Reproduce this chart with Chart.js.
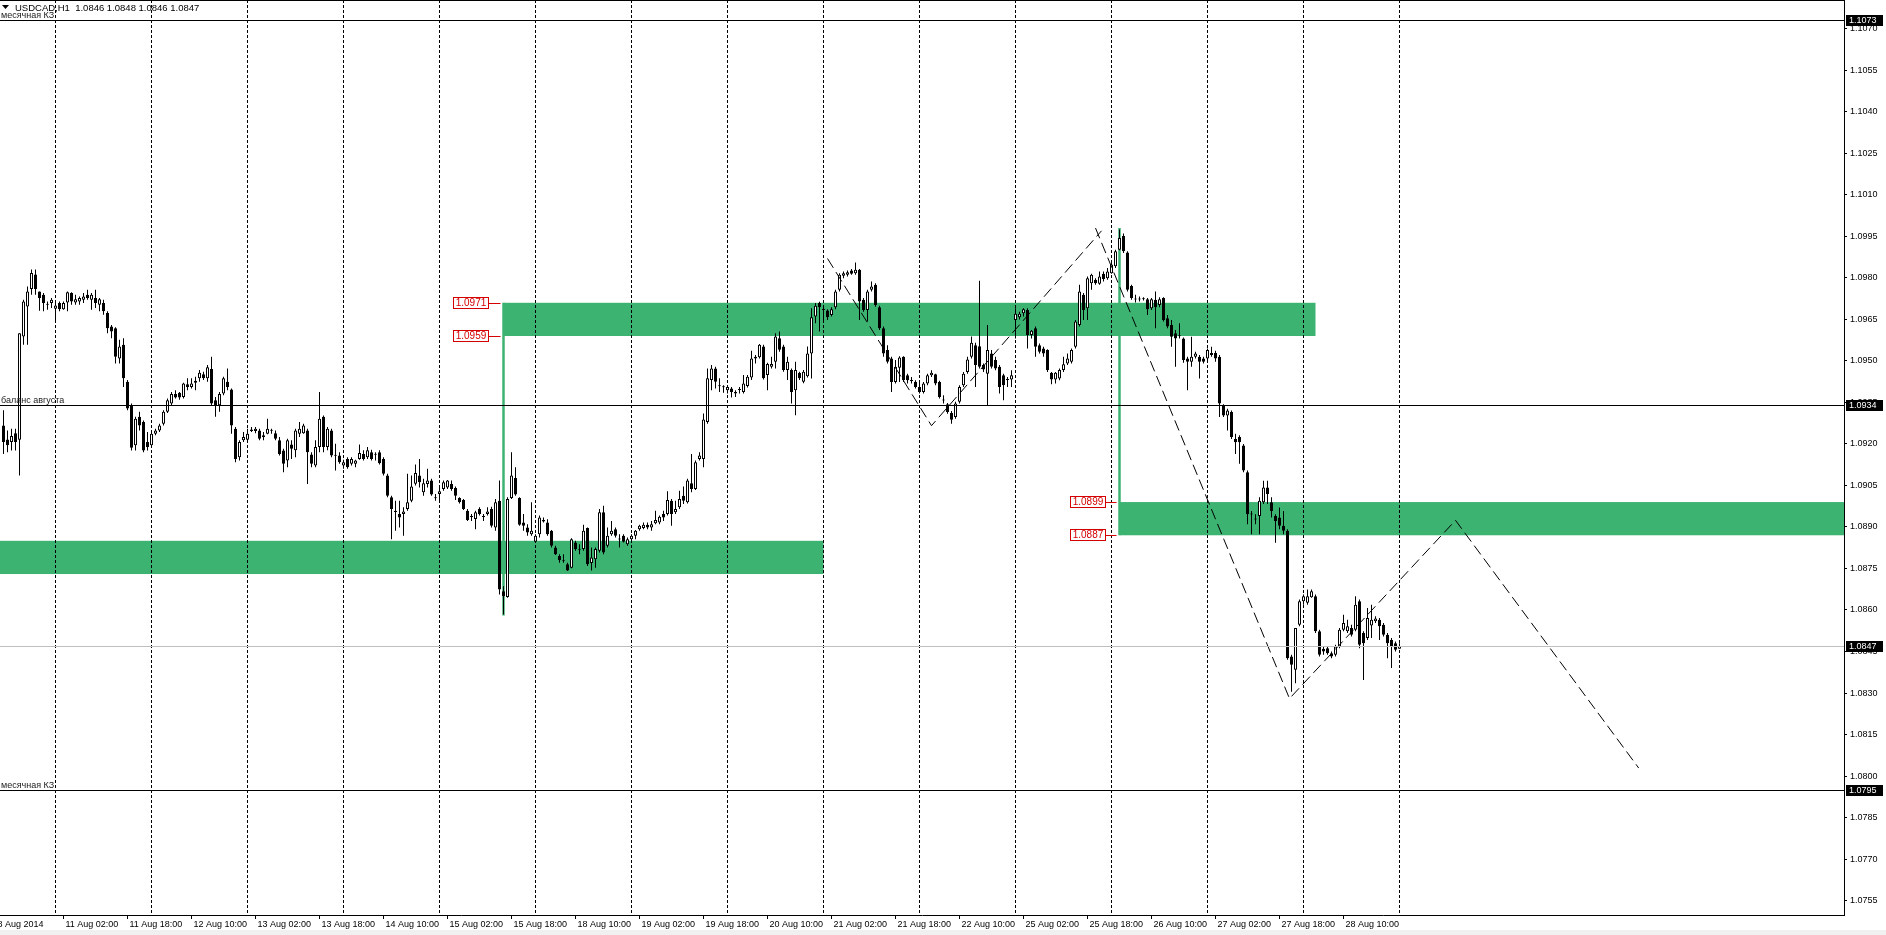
<!DOCTYPE html>
<html>
<head>
<meta charset="utf-8">
<title>USDCAD,H1</title>
<script src="https://cdn.jsdelivr.net/npm/chart.js@4.4.1/dist/chart.umd.min.js"></script>
<style>
  html, body { margin: 0; padding: 0; background: #fff; overflow: hidden; }
  #wrap { position: relative; width: 1886px; height: 935px; }
</style>
</head>
<body>
<div id="wrap"><canvas id="chart"></canvas></div>
<script>
'use strict';

(function () {

   //hourly candles, 8 Aug 2014 11:00 .. 29 Aug 2014 00:00 (bar 0 .. 349)
   var opens = [
      1.09267,1.09216,1.09207,1.09239,1.09215,1.09588,1.09697,1.09760,1.09812,1.09751,
      1.09739,1.09705,1.09709,1.09688,1.09709,1.09687,1.09711,1.09745,1.09711,1.09715,
      1.09721,1.09739,1.09721,1.09727,1.09703,1.09709,1.09673,1.09624,1.09618,1.09509,
      1.09558,1.09425,1.09340,1.09195,1.09298,1.09279,1.09207,1.09195,1.09237,1.09249,
      1.09273,1.09316,1.09346,1.09380,1.09385,1.09370,1.09416,1.09406,1.09421,1.09437,
      1.09452,1.09437,1.09471,1.09358,1.09340,1.09382,1.09425,1.09397,1.09255,1.09152,
      1.09213,1.09215,1.09247,1.09247,1.09249,1.09231,1.09237,1.09249,1.09239,1.09213,
      1.09176,1.09140,1.09198,1.09177,1.09237,1.09239,1.09249,1.09162,1.09122,1.09189,
      1.09298,1.09189,1.09249,1.09161,1.09158,1.09122,1.09146,1.09128,1.09128,1.09146,
      1.09164,1.09152,1.09170,1.09163,1.09170,1.09146,1.09086,1.09007,1.08959,1.08947,
      1.08947,1.08965,1.08995,1.09056,1.09086,1.09025,1.09055,1.09068,1.09007,1.09019,
      1.09037,1.09043,1.09055,1.09041,1.09005,1.08997,1.08959,1.08938,1.08929,1.08965,
      1.08938,1.08947,1.08965,1.08898,1.08995,1.08668,1.08647,1.09005,1.09077,1.09005,
      1.08916,1.08898,1.08874,1.08847,1.08874,1.08925,1.08916,1.08886,1.08826,1.08795,
      1.08778,1.08765,1.08753,1.08844,1.08821,1.08820,1.08896,1.08770,1.08783,1.08814,
      1.08953,1.08832,1.08874,1.08892,1.08857,1.08868,1.08838,1.08856,1.08868,1.08892,
      1.08896,1.08908,1.08898,1.08913,1.08916,1.08947,1.08947,1.08995,1.08953,1.08971,
      1.09013,1.08989,1.09058,1.09037,1.09146,1.09146,1.09279,1.09431,1.09473,1.09410,
      1.09408,1.09394,1.09400,1.09382,1.09398,1.09388,1.09409,1.09440,1.09509,1.09513,
      1.09552,1.09449,1.09479,1.09497,1.09582,1.09552,1.09467,1.09467,1.09394,1.09457,
      1.09425,1.09445,1.09527,1.09660,1.09709,1.09688,1.09682,1.09666,1.09694,1.09757,
      1.09808,1.09811,1.09827,1.09817,1.09829,1.09721,1.09684,1.09757,1.09775,1.09694,
      1.09618,1.09539,1.09509,1.09424,1.09475,1.09515,1.09448,1.09429,1.09425,1.09406,
      1.09388,1.09418,1.09448,1.09452,1.09424,1.09359,1.09343,1.09312,1.09297,1.09352,
      1.09412,1.09460,1.09515,1.09557,1.09553,1.09485,1.09454,1.09527,1.09503,1.09479,
      1.09448,1.09434,1.09433,1.09648,1.09658,1.09672,1.09684,1.09594,1.09618,1.09557,
      1.09545,1.09539,1.09457,1.09433,1.09436,1.09467,1.09491,1.09497,1.09551,1.09630,
      1.09739,1.09690,1.09781,1.09793,1.09779,1.09815,1.09799,1.09817,1.09842,1.09902,
      1.09951,1.09892,1.09771,1.09724,1.09724,1.09723,1.09723,1.09690,1.09721,1.09702,
      1.09727,1.09654,1.09630,1.09600,1.09591,1.09581,1.09509,1.09497,1.09515,1.09515,
      1.09509,1.09509,1.09521,1.09529,1.09515,1.09339,1.09303,1.09315,1.09218,1.09225,
      1.09194,1.09098,1.08947,1.08929,1.08940,1.08989,1.09043,1.08989,1.08940,1.08934,
      1.08904,1.08886,1.08432,1.08384,1.08547,1.08632,1.08626,1.08646,1.08650,1.08523,
      1.08460,1.08462,1.08444,1.08438,1.08468,1.08529,1.08523,1.08535,1.08529,1.08632,
      1.08517,1.08499,1.08544,1.08559,1.08565,1.08547,1.08511,1.08492,1.08480,1.0846
   ];
   var highs = [
      1.09322,1.09249,1.09255,1.09255,1.09600,1.09721,1.09769,1.09830,1.09830,1.09751,
      1.09745,1.09715,1.09727,1.09709,1.09715,1.09715,1.09751,1.09748,1.09739,1.09733,
      1.09745,1.09757,1.09745,1.09757,1.09727,1.09721,1.09679,1.09630,1.09622,1.09576,
      1.09582,1.09431,1.09346,1.09298,1.09316,1.09285,1.09243,1.09249,1.09255,1.09273,
      1.09322,1.09364,1.09388,1.09394,1.09388,1.09421,1.09437,1.09437,1.09443,1.09467,
      1.09461,1.09485,1.09515,1.09370,1.09388,1.09443,1.09473,1.09400,1.09261,1.09213,
      1.09243,1.09255,1.09261,1.09261,1.09255,1.09243,1.09291,1.09255,1.09249,1.09225,
      1.09183,1.09219,1.09213,1.09255,1.09279,1.09273,1.09255,1.09170,1.09213,1.09388,
      1.09303,1.09261,1.09255,1.09201,1.09170,1.09143,1.09152,1.09152,1.09143,1.09198,
      1.09177,1.09189,1.09179,1.09170,1.09177,1.09152,1.09092,1.09013,1.08995,1.08995,
      1.08971,1.09092,1.09086,1.09126,1.09146,1.09074,1.09110,1.09074,1.09019,1.09043,
      1.09068,1.09070,1.09068,1.09046,1.09007,1.09001,1.08965,1.08947,1.08959,1.08971,
      1.08947,1.08971,1.08973,1.09001,1.09068,1.08686,1.09007,1.09170,1.09116,1.09007,
      1.08947,1.08910,1.08989,1.08874,1.08941,1.08934,1.08928,1.08889,1.08832,1.08801,
      1.08801,1.08771,1.08859,1.08850,1.08838,1.08908,1.08898,1.08826,1.08826,1.08965,
      1.08977,1.08898,1.08922,1.08898,1.08874,1.08874,1.08862,1.08874,1.08889,1.08908,
      1.08916,1.08916,1.08922,1.08959,1.08941,1.08959,1.09029,1.09001,1.08995,1.09031,
      1.09046,1.09074,1.09164,1.09140,1.09170,1.09310,1.09473,1.09485,1.09479,1.09437,
      1.09412,1.09412,1.09406,1.09394,1.09406,1.09449,1.09449,1.09537,1.09521,1.09561,
      1.09558,1.09493,1.09515,1.09600,1.09606,1.09558,1.09515,1.09473,1.09497,1.09461,
      1.09467,1.09552,1.09690,1.09709,1.09714,1.09702,1.09687,1.09694,1.09757,1.09817,
      1.09823,1.09827,1.09832,1.09856,1.09832,1.09727,1.09757,1.09787,1.09781,1.09699,
      1.09624,1.09557,1.09515,1.09503,1.09517,1.09517,1.09454,1.09442,1.09430,1.09424,
      1.09424,1.09454,1.09466,1.09454,1.09428,1.09376,1.09348,1.09319,1.09352,1.09412,
      1.09460,1.09515,1.09588,1.09566,1.09790,1.09491,1.09630,1.09539,1.09515,1.09485,
      1.09454,1.09442,1.09466,1.09690,1.09678,1.09690,1.09690,1.09612,1.09624,1.09563,
      1.09551,1.09542,1.09460,1.09460,1.09473,1.09515,1.09527,1.09545,1.09648,1.09775,
      1.09745,1.09805,1.09815,1.09799,1.09823,1.09823,1.09836,1.09854,1.09902,1.09975,
      1.09960,1.09896,1.09775,1.09739,1.09733,1.09730,1.09727,1.09727,1.09751,1.09730,
      1.09730,1.09666,1.09648,1.09612,1.09636,1.09585,1.09515,1.09587,1.09533,1.09521,
      1.09515,1.09545,1.09551,1.09537,1.09521,1.09343,1.09327,1.09321,1.09237,1.09231,
      1.09200,1.09104,1.08958,1.08946,1.09007,1.09067,1.09067,1.09007,1.08946,1.08970,
      1.08958,1.08892,1.08438,1.08535,1.08638,1.08656,1.08674,1.08674,1.08656,1.08529,
      1.08468,1.08468,1.08450,1.08474,1.08535,1.08583,1.08565,1.08547,1.08650,1.08638,
      1.08523,1.08607,1.08619,1.08577,1.08571,1.08553,1.08517,1.08499,1.08486,1.0848
   ];
   var lows = [
      1.09164,1.09170,1.09176,1.09176,1.09086,1.09558,1.09558,1.09739,1.09739,1.09681,
      1.09679,1.09685,1.09691,1.09648,1.09679,1.09685,1.09679,1.09703,1.09703,1.09703,
      1.09709,1.09721,1.09685,1.09691,1.09679,1.09667,1.09600,1.09582,1.09491,1.09491,
      1.09406,1.09322,1.09176,1.09176,1.09249,1.09170,1.09176,1.09189,1.09231,1.09243,
      1.09267,1.09312,1.09340,1.09364,1.09360,1.09364,1.09394,1.09400,1.09394,1.09425,
      1.09431,1.09425,1.09340,1.09298,1.09316,1.09376,1.09394,1.09237,1.09134,1.09140,
      1.09207,1.09207,1.09243,1.09239,1.09213,1.09213,1.09235,1.09237,1.09213,1.09158,
      1.09098,1.09116,1.09146,1.09152,1.09225,1.09237,1.09055,1.09116,1.09116,1.09170,
      1.09170,1.09177,1.09152,1.09104,1.09128,1.09110,1.09110,1.09122,1.09116,1.09143,
      1.09140,1.09146,1.09140,1.09140,1.09126,1.09086,1.09007,1.08856,1.08886,1.08898,
      1.08868,1.08959,1.08989,1.09050,1.09043,1.09013,1.09043,1.09013,1.08995,1.08995,
      1.09031,1.09037,1.09031,1.08997,1.08985,1.08961,1.08922,1.08922,1.08892,1.08941,
      1.08922,1.08941,1.08898,1.08886,1.08656,1.08584,1.08644,1.09001,1.09013,1.08904,
      1.08886,1.08868,1.08868,1.08844,1.08862,1.08916,1.08868,1.08826,1.08799,1.08771,
      1.08771,1.08741,1.08751,1.08814,1.08801,1.08814,1.08759,1.08743,1.08753,1.08808,
      1.08801,1.08826,1.08868,1.08862,1.08826,1.08844,1.08832,1.08850,1.08856,1.08886,
      1.08892,1.08892,1.08886,1.08910,1.08910,1.08922,1.08941,1.08904,1.08947,1.08965,
      1.08983,1.08985,1.09025,1.09034,1.09140,1.09116,1.09273,1.09394,1.09400,1.09388,
      1.09385,1.09382,1.09368,1.09370,1.09382,1.09382,1.09404,1.09431,1.09491,1.09509,
      1.09433,1.09394,1.09473,1.09473,1.09533,1.09461,1.09431,1.09346,1.09304,1.09431,
      1.09419,1.09440,1.09436,1.09636,1.09606,1.09648,1.09648,1.09660,1.09687,1.09751,
      1.09799,1.09805,1.09811,1.09811,1.09648,1.09678,1.09642,1.09751,1.09696,1.09612,
      1.09515,1.09491,1.09388,1.09418,1.09424,1.09424,1.09418,1.09418,1.09400,1.09382,
      1.09382,1.09412,1.09442,1.09412,1.09364,1.09346,1.09309,1.09273,1.09291,1.09346,
      1.09406,1.09454,1.09509,1.09406,1.09473,1.09460,1.09339,1.09473,1.09466,1.09382,
      1.09358,1.09406,1.09406,1.09581,1.09650,1.09660,1.09545,1.09581,1.09515,1.09527,
      1.09515,1.09460,1.09416,1.09418,1.09430,1.09460,1.09485,1.09491,1.09545,1.09624,
      1.09648,1.09648,1.09757,1.09775,1.09775,1.09787,1.09793,1.09815,1.09836,1.09900,
      1.09890,1.09751,1.09721,1.09711,1.09715,1.09718,1.09666,1.09684,1.09618,1.09694,
      1.09642,1.09618,1.09551,1.09479,1.09581,1.09493,1.09394,1.09479,1.09509,1.09436,
      1.09491,1.09503,1.09515,1.09497,1.09297,1.09297,1.09249,1.09218,1.09164,1.09128,
      1.09098,1.08910,1.08874,1.08910,1.08874,1.08983,1.08983,1.08934,1.08843,1.08892,
      1.08874,1.08420,1.08305,1.08335,1.08541,1.08619,1.08619,1.08644,1.08517,1.08432,
      1.08438,1.08438,1.08426,1.08432,1.08462,1.08523,1.08517,1.08504,1.08523,1.08462,
      1.08347,1.08492,1.08499,1.08553,1.08492,1.08504,1.08426,1.08390,1.08450,1.0846
   ];
   var closes = [
      1.09207,1.09195,1.09229,1.09207,1.09600,1.09715,1.09751,1.09818,1.09760,1.09727,
      1.09709,1.09703,1.09721,1.09700,1.09687,1.09709,1.09748,1.09715,1.09723,1.09727,
      1.09733,1.09727,1.09739,1.09709,1.09723,1.09679,1.09618,1.09606,1.09515,1.09552,
      1.09437,1.09328,1.09186,1.09291,1.09267,1.09176,1.09189,1.09237,1.09249,1.09267,
      1.09316,1.09358,1.09380,1.09368,1.09368,1.09418,1.09406,1.09418,1.09428,1.09457,
      1.09437,1.09477,1.09346,1.09340,1.09380,1.09437,1.09406,1.09267,1.09146,1.09207,
      1.09225,1.09237,1.09252,1.09255,1.09219,1.09225,1.09255,1.09248,1.09219,1.09164,
      1.09128,1.09213,1.09183,1.09249,1.09255,1.09267,1.09170,1.09128,1.09189,1.09291,
      1.09189,1.09255,1.09158,1.09157,1.09134,1.09134,1.09116,1.09146,1.09140,1.09167,
      1.09146,1.09177,1.09146,1.09161,1.09130,1.09092,1.09013,1.08965,1.08954,1.08934,
      1.08956,1.08989,1.09046,1.09095,1.09062,1.09058,1.09068,1.09017,1.09004,1.09029,
      1.09062,1.09068,1.09037,1.09013,1.08989,1.08965,1.08925,1.08936,1.08953,1.08947,
      1.08936,1.08956,1.08904,1.08989,1.08674,1.08650,1.09001,1.09086,1.09017,1.08908,
      1.08904,1.08880,1.08886,1.08868,1.08934,1.08920,1.08874,1.08832,1.08801,1.08780,
      1.08776,1.08743,1.08856,1.08820,1.08818,1.08886,1.08765,1.08790,1.08820,1.08953,
      1.08808,1.08868,1.08886,1.08868,1.08855,1.08847,1.08856,1.08868,1.08886,1.08904,
      1.08908,1.08898,1.08910,1.08925,1.08937,1.08934,1.08997,1.08947,1.08965,1.09001,
      1.08995,1.09068,1.09037,1.09134,1.09158,1.09288,1.09437,1.09473,1.09425,1.09408,
      1.09405,1.09406,1.09388,1.09388,1.09395,1.09418,1.09443,1.09509,1.09515,1.09558,
      1.09437,1.09489,1.09489,1.09588,1.09540,1.09467,1.09497,1.09388,1.09467,1.09437,
      1.09461,1.09527,1.09658,1.09699,1.09694,1.09684,1.09658,1.09687,1.09751,1.09811,
      1.09817,1.09820,1.09815,1.09829,1.09715,1.09684,1.09751,1.09769,1.09702,1.09618,
      1.09527,1.09497,1.09424,1.09479,1.09512,1.09430,1.09430,1.09427,1.09406,1.09388,
      1.09418,1.09448,1.09457,1.09418,1.09370,1.09357,1.09315,1.09287,1.09346,1.09406,
      1.09454,1.09505,1.09566,1.09485,1.09479,1.09469,1.09539,1.09479,1.09473,1.09406,
      1.09412,1.09431,1.09448,1.09670,1.09670,1.09687,1.09594,1.09609,1.09551,1.09533,
      1.09527,1.09467,1.09433,1.09457,1.09467,1.09488,1.09509,1.09539,1.09642,1.09751,
      1.09684,1.09799,1.09811,1.09781,1.09805,1.09796,1.09823,1.09848,1.09896,1.09944,
      1.09896,1.09757,1.09727,1.09722,1.09722,1.09725,1.09687,1.09723,1.09694,1.09723,
      1.09648,1.09624,1.09587,1.09581,1.09589,1.09503,1.09497,1.09515,1.09527,1.09497,
      1.09497,1.09539,1.09529,1.09509,1.09346,1.09303,1.09321,1.09225,1.09206,1.09206,
      1.09104,1.08946,1.08945,1.08927,1.08995,1.09043,1.09019,1.08958,1.08922,1.08904,
      1.08886,1.08426,1.08402,1.08535,1.08632,1.08650,1.08650,1.08668,1.08523,1.08438,
      1.08450,1.08444,1.08432,1.08468,1.08529,1.08553,1.08541,1.08511,1.08619,1.08474,
      1.08480,1.08571,1.08565,1.08569,1.08541,1.08511,1.08480,1.08468,1.08456,1.0847
   ];

   //time axis: labels every 16 bars, dashed grid at the first bar of each day
   var timeLabels = ['8 Aug 2014', '11 Aug 02:00', '11 Aug 18:00', '12 Aug 10:00', '13 Aug 02:00',
                     '13 Aug 18:00', '14 Aug 10:00', '15 Aug 02:00', '15 Aug 18:00', '18 Aug 10:00',
                     '19 Aug 02:00', '19 Aug 18:00', '20 Aug 10:00', '21 Aug 02:00', '21 Aug 18:00',
                     '22 Aug 10:00', '25 Aug 02:00', '25 Aug 18:00', '26 Aug 10:00', '27 Aug 02:00',
                     '27 Aug 18:00', '28 Aug 10:00'];
   var timeLabelBars = [-2, 15, 31, 47, 63, 79, 95, 111, 127, 143, 159, 175, 191, 207, 223,
                        239, 255, 271, 287, 303, 319, 335];
   var dayStartBars = [13, 37, 61, 85, 109, 133, 157, 181, 205, 229, 253, 277, 301, 325, 349];

   var priceTicks = [1.0755, 1.0770, 1.0785, 1.0800, 1.0815, 1.0830, 1.0845, 1.0860, 1.0875,
                     1.0890, 1.0905, 1.0920, 1.0935, 1.0950, 1.0965, 1.0980, 1.0995, 1.1010,
                     1.1025, 1.1040, 1.1055, 1.1070];

   //hand drawn levels
   var levelPrices = [1.1073, 1.0934, 1.0795];
   var levelNames = ['месячная КЗ', 'баланс августа', 'месячная КЗ'];
   var bidPrice = 1.0847;

   //green zones
   var zoneFrom = [-2, 125, 279];
   var zoneTo = [205, 328, 470];
   var zoneLow = [1.0873, 1.0959, 1.0887];
   var zoneHigh = [1.0885, 1.0971, 1.0899];

   //green stems and red price tags
   var stemBars = [125, 279];
   var stemTop = [1.0971, 1.0998];
   var stemBottom = [1.0858, 1.0887];
   var tagBars = [125, 125, 279, 279];
   var tagPrices = [1.0971, 1.0959, 1.0899, 1.0887];

   //dashed wave path
   var waveBarsA = [206, 232, 274.5];
   var wavePricesA = [1.0987, 1.09266, 1.0997];
   var waveBarsB = [273, 321.5, 363, 408.8];
   var wavePricesB = [1.0998, 1.0828, 1.08924, 1.08029];

   var xMin = -0.875, xMax = 460.125;
   var yMin = 1.07498, yMax = 1.10804;

   var GREEN = '#3cb371';
   var FONT = '"Liberation Sans", Arial, sans-serif';

   var bodies = [], wicks = [], bodyColors = [];
   for (var i = 0; i < closes.length; i++) {
      wicks.push({x: i, y: [lows[i], highs[i]]});
      bodies.push({x: i, y: [opens[i], closes[i]]});
      bodyColors.push(closes[i] >= opens[i] ? '#ffffff' : '#000000');
   }
   function path(xs, ys) {
      return xs.map(function (x, k) { return {x: x, y: ys[k]}; });
   }

   var drawExtras = {
      id: 'extras',
      beforeDraw: function (chart) {
         var ctx = chart.ctx, a = chart.chartArea;
         var x = chart.scales.x, y = chart.scales.y;
         ctx.save();
         ctx.fillStyle = '#ffffff';
         ctx.fillRect(0, 0, chart.width, chart.height);
         ctx.fillStyle = '#f0f0f0';
         ctx.fillRect(0, 930, chart.width, chart.height - 930);
         ctx.beginPath();
         ctx.rect(a.left, a.top, a.right - a.left, a.bottom - a.top);
         ctx.clip();
         ctx.fillStyle = GREEN;
         zoneFrom.forEach(function (f, k) {
            var x1 = x.getPixelForValue(f), x2 = x.getPixelForValue(zoneTo[k]);
            var y1 = y.getPixelForValue(zoneHigh[k]), y2 = y.getPixelForValue(zoneLow[k]);
            ctx.fillRect(x1, y1, x2 - x1, y2 - y1);
         });
         ctx.strokeStyle = GREEN;
         ctx.lineWidth = 2.5;
         stemBars.forEach(function (b, k) {
            var px = x.getPixelForValue(b);
            ctx.beginPath();
            ctx.moveTo(px, y.getPixelForValue(stemTop[k]));
            ctx.lineTo(px, y.getPixelForValue(stemBottom[k]));
            ctx.stroke();
         });
         ctx.restore();
      },
      afterDraw: function (chart) {
         var ctx = chart.ctx, a = chart.chartArea;
         var x = chart.scales.x, y = chart.scales.y;
         ctx.save();
         ctx.lineWidth = 1;
         //frame top
         ctx.strokeStyle = '#000';
         ctx.beginPath();
         ctx.moveTo(a.left, a.top + 0.5);
         ctx.lineTo(a.right, a.top + 0.5);
         ctx.stroke();
         //levels
         ctx.font = '9px ' + FONT;
         ctx.textBaseline = 'alphabetic';
         ctx.textAlign = 'left';
         levelPrices.forEach(function (p, k) {
            var py = Math.round(y.getPixelForValue(p)) + 0.5;
            ctx.strokeStyle = '#000';
            ctx.beginPath();
            ctx.moveTo(a.left, py);
            ctx.lineTo(a.right, py);
            ctx.stroke();
            ctx.fillStyle = '#222';
            ctx.fillText(levelNames[k], a.left + 1, py - 2.5);
         });
         var by = Math.round(y.getPixelForValue(bidPrice)) + 0.5;
         ctx.strokeStyle = '#c0c0c0';
         ctx.beginPath();
         ctx.moveTo(a.left, by);
         ctx.lineTo(a.right, by);
         ctx.stroke();
         //price boxes on the axis
         ctx.textBaseline = 'middle';
         levelPrices.concat([bidPrice]).forEach(function (p) {
            var py = Math.round(y.getPixelForValue(p));
            ctx.fillStyle = '#000';
            ctx.fillRect(a.right + 2, py - 5, 37, 11);
            ctx.fillStyle = '#fff';
            ctx.fillText(p.toFixed(4), a.right + 5, py + 0.5);
         });
         //red tags
         ctx.textAlign = 'center';
         ctx.font = '10px ' + FONT;
         tagBars.forEach(function (b, k) {
            var sx = x.getPixelForValue(b);
            var py = Math.round(y.getPixelForValue(tagPrices[k]));
            var right = Math.round(sx - 14);
            ctx.fillStyle = '#fff';
            ctx.fillRect(right - 36, py - 6, 36, 12);
            ctx.strokeStyle = '#d40000';
            ctx.strokeRect(right - 35.5, py - 5.5, 35, 11);
            ctx.beginPath();
            ctx.moveTo(right, py + 0.5);
            ctx.lineTo(sx - 3, py + 0.5);
            ctx.stroke();
            ctx.fillStyle = '#d40000';
            ctx.fillText(tagPrices[k].toFixed(4), right - 18, py + 0.5);
         });
         //header
         var last = closes.length - 1;
         ctx.fillStyle = '#000';
         ctx.beginPath();
         ctx.moveTo(2, 5);
         ctx.lineTo(9, 5);
         ctx.lineTo(5.5, 9);
         ctx.closePath();
         ctx.fill();
         ctx.font = '9.5px ' + FONT;
         ctx.textAlign = 'left';
         ctx.textBaseline = 'alphabetic';
         ctx.fillText('USDCAD,H1  ' + opens[last].toFixed(4) + ' ' + highs[last].toFixed(4) + ' ' +
                      lows[last].toFixed(4) + ' ' + closes[last].toFixed(4), 15, 11);
         ctx.restore();
      }
   };

   Chart.defaults.font.family = FONT;
   Chart.defaults.font.size = 9;
   Chart.defaults.color = '#000';

   var ctx = document.getElementById('chart').getContext('2d');
   var chart = new Chart(ctx, {
      type: 'bar',
      data: {
         datasets: [{
            type: 'line', data: path(waveBarsA, wavePricesA), xAxisID: 'x', yAxisID: 'y',
            borderColor: '#000', borderWidth: 1, borderDash: [11, 5], pointRadius: 0, fill: false, order: 0
         }, {
            type: 'line', data: path(waveBarsB, wavePricesB), xAxisID: 'x', yAxisID: 'y',
            borderColor: '#000', borderWidth: 1, borderDash: [11, 5], pointRadius: 0, fill: false, order: 0
         }, {
            type: 'bar', data: bodies, xAxisID: 'x', yAxisID: 'y',
            backgroundColor: bodyColors, borderColor: '#000', borderWidth: 1, borderSkipped: false,
            barThickness: 3, minBarLength: 1, inflateAmount: 0, grouped: false, order: 1
         }, {
            type: 'bar', data: wicks, xAxisID: 'x', yAxisID: 'y',
            backgroundColor: '#000', borderWidth: 0, barThickness: 1, inflateAmount: 0,
            grouped: false, order: 2
         }]
      },
      options: {
         responsive: true,
         maintainAspectRatio: false,
         devicePixelRatio: 1,
         animation: false,
         events: [],
         layout: { padding: 0 },
         plugins: { legend: { display: false }, tooltip: { enabled: false } },
         scales: {
            x: {
               type: 'linear', position: 'bottom', min: xMin, max: xMax, bounds: 'data', offset: false,
               afterBuildTicks: function (s) {
                  s.ticks = timeLabelBars.map(function (v) { return {value: v}; });
               },
               ticks: {
                  autoSkip: false, maxRotation: 0, minRotation: 0, align: 'start', labelOffset: 2,
                  padding: 0, color: '#000', font: { size: 9 },
                  callback: function (v, idx) { return timeLabels[idx]; }
               },
               grid: { drawOnChartArea: false, drawTicks: true, tickLength: 4, color: '#000', offset: false },
               border: { display: true, color: '#000', width: 1 },
               afterFit: function (s) { s.height = 20; s.paddingLeft = 0; s.paddingRight = 0; }
            },
            xg: {
               type: 'linear', position: 'bottom', min: xMin, max: xMax, bounds: 'data', offset: false,
               afterBuildTicks: function (s) {
                  s.ticks = dayStartBars.map(function (v) { return {value: v}; });
               },
               ticks: { display: false },
               grid: { drawOnChartArea: true, drawTicks: false, color: '#000', lineWidth: 1, offset: false },
               border: { display: false, dash: [3, 2] },
               afterFit: function (s) { s.height = 0; s.paddingLeft = 0; s.paddingRight = 0; }
            },
            y: {
               type: 'linear', position: 'right', min: yMin, max: yMax, bounds: 'data',
               afterBuildTicks: function (s) {
                  s.ticks = priceTicks.map(function (v) { return {value: v}; });
               },
               ticks: {
                  autoSkip: false, padding: 3, color: '#000', font: { size: 9 },
                  callback: function (v) { return v.toFixed(4); }
               },
               grid: { drawOnChartArea: false, tickLength: 3, color: '#000' },
               border: { display: true, color: '#000', width: 1 },
               afterFit: function (s) { s.width = 42; s.paddingTop = 0; s.paddingBottom = 0; }
            }
         }
      },
      plugins: [drawExtras]
   });

})();
</script>
</body>
</html>
